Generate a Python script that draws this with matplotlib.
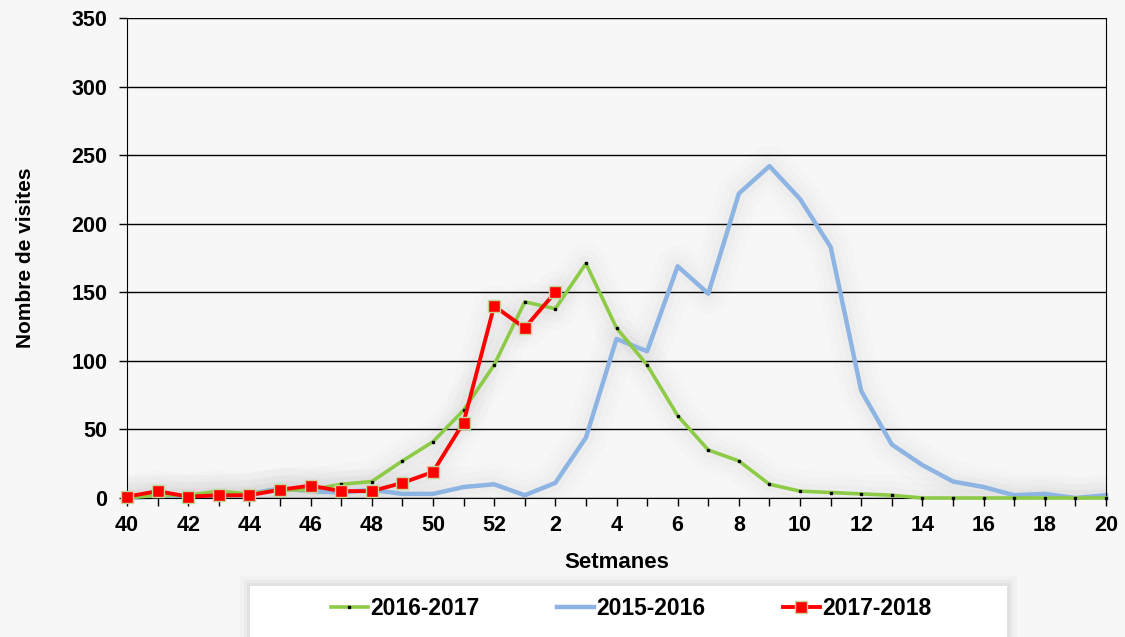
import matplotlib
matplotlib.use("Agg")
import matplotlib.pyplot as plt
from matplotlib.patches import Rectangle

plt.rcParams['font.family'] = ['Liberation Sans', 'DejaVu Sans']
plt.rcParams['font.weight'] = 'bold'

# setmanes 40..52 i 1..20
setmanes = list(range(40, 53)) + list(range(1, 21))

t_2016_2017 = [0, 2, 2, 5, 3, 6, 6, 10, 12, 27, 41, 64, 97, 143, 138, 171, 124, 97, 60, 35, 27,
               10, 5, 4, 3, 2, 0, 0, 0, 0, 0, 0, 0]
t_2015_2016 = [0, 1, 1, 2, 3, 7, 5, 4, 6, 3, 3, 8, 10, 2, 11, 44, 116, 107, 169, 149, 222,
               242, 218, 183, 78, 39, 24, 12, 8, 2, 3, 0, 2]
t_2017_2018 = [1, 5, 1, 2, 2, 6, 9, 5, 5, 11, 19, 55, 140, 124, 150]

x = list(range(len(setmanes)))
x_labels = [str(s) if i % 2 == 0 else '' for i, s in enumerate(setmanes)]

bg = '#f7f7f7'
fig = plt.figure(figsize=(11.25, 6.37), dpi=100, facecolor=bg)
ax = fig.add_axes([127 / 1125, 1 - 498 / 637, 979 / 1125, 480 / 637], facecolor=bg)

# ombra difusa darrere les linies
x_red = x[:len(t_2017_2018)]
for lw, a in ((30, 0.015), (20, 0.02), (11, 0.025)):
    ax.plot(x, t_2016_2017, color='#666666', lw=lw, alpha=a, solid_capstyle='round', zorder=1)
    ax.plot(x, t_2015_2016, color='#666666', lw=lw, alpha=a, solid_capstyle='round', zorder=1)
    ax.plot(x_red, t_2017_2018, color='#666666', lw=lw, alpha=a, solid_capstyle='round', zorder=1)

ax.plot(x, t_2016_2017, color='#8DCB47', lw=2.6, marker='s', ms=2,
        mfc='black', mec='black', label='2016-2017', zorder=3, clip_on=False)
ax.plot(x, t_2015_2016, color='#8DB4E2', lw=3.2, label='2015-2016', zorder=2, clip_on=False)
ax.plot(x_red, t_2017_2018, color='#FF0000', lw=2.8, marker='s', ms=9,
        mfc='#FF0000', mec='#C4D79B', mew=1, label='2017-2018', zorder=4, clip_on=False)

ax.set_xlim(0, 32)
ax.set_ylim(0, 350)
ax.set_yticks(range(0, 351, 50))
ax.set_xticks(x)
ax.set_xticklabels(x_labels)
ax.yaxis.grid(True, color='black', lw=1)
ax.set_axisbelow(True)
ax.tick_params(axis='both', direction='out', length=6, width=1, labelsize=15.5, color='black')
ax.tick_params(axis='y', pad=8)
ax.tick_params(axis='x', pad=6)
for lab in ax.get_xticklabels() + ax.get_yticklabels():
    lab.set_fontweight('bold')
for side in ('left', 'right', 'bottom'):
    ax.spines[side].set_color('black')
ax.spines['top'].set_visible(False)

ax.set_xlabel('Setmanes', fontsize=16, fontweight='bold', labelpad=12)
ax.set_ylabel('Nombre de visites', fontsize=15, fontweight='bold', labelpad=26)

# requadre de la llegenda amb ombra suau
for d, a in ((10, 0.06), (6, 0.08), (3, 0.1)):
    fig.patches.append(Rectangle(((250 - d) / 1125, -0.01), (757 + 2 * d) / 1125,
                                 (637 - 580 + d) / 637, transform=fig.transFigure,
                                 facecolor='#999999', edgecolor='none', alpha=a, zorder=0))
fig.patches.append(Rectangle((250 / 1125, -0.01), 757 / 1125, (637 - 580) / 637,
                             transform=fig.transFigure, facecolor='white',
                             edgecolor='none', zorder=1))
leg = fig.legend(loc='center', bbox_to_anchor=(0.561, 0.044), ncol=3, frameon=False,
                 fontsize=16.5, handlelength=1.6, handletextpad=0.1, columnspacing=3.4,
                 markerscale=0.9)
for t in leg.get_texts():
    t.set_fontweight('bold')

fig.savefig('out.png', dpi=100, facecolor=bg)
